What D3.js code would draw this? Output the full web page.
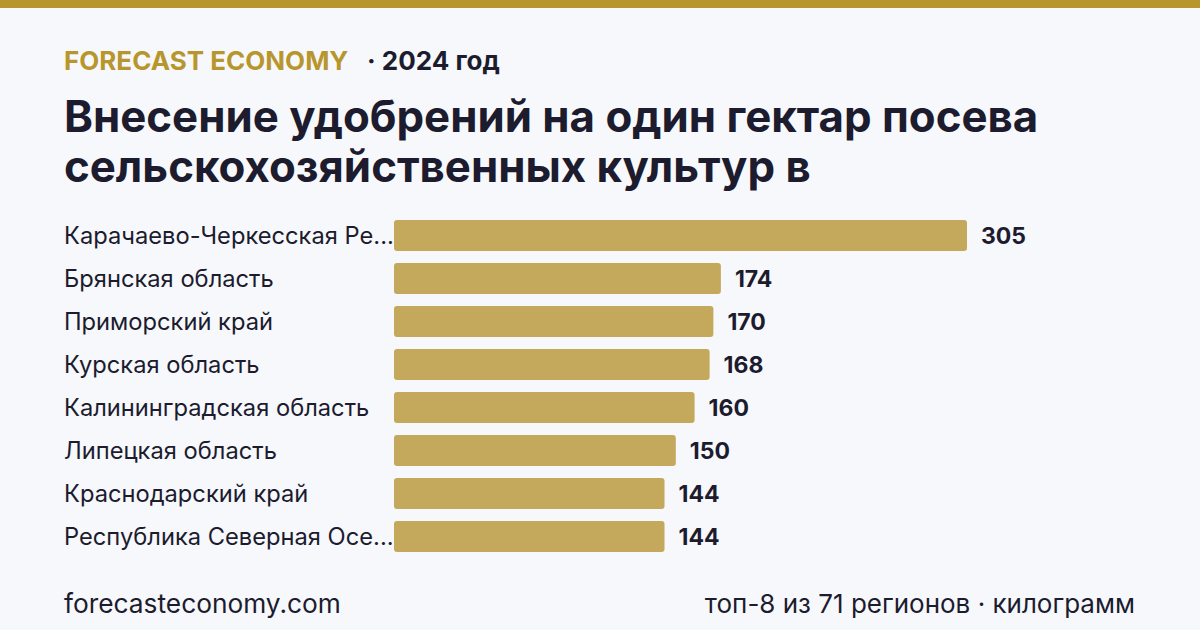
<!DOCTYPE html>
<html>
<head>
<meta charset="utf-8">
<script src="https://cdn.jsdelivr.net/npm/d3@7"></script>
<style>
  html, body { margin: 0; padding: 0; background: #f7f8fc; }
  svg { display: block; font-family: Inter, "Noto Sans", sans-serif; }
</style>
</head>
<body>
<div class="container"></div>
<script>
const w = 1200
const h = 630

const regions = [
  "Карачаево-Черкесская Ре...",
  "Брянская область",
  "Приморский край",
  "Курская область",
  "Калининградская область",
  "Липецкая область",
  "Краснодарский край",
  "Республика Северная Осе..."
]
const values = [305, 174, 170, 168, 160, 150, 144, 144]

const titleLines = [
  "Внесение удобрений на один гектар посева",
  "сельскохозяйственных культур в"
]

const gold = "#b8962e"
const barColor = "#c4a95c"
const ink = "#1c1c2e"

const svg = d3.select(".container")
              .append("svg")
              .attr("width", w)
              .attr("height", h)

svg.append("rect")
   .attr("width", w).attr("height", h)
   .attr("fill", "#f7f8fc")

svg.append("rect")
   .attr("width", w).attr("height", 8)
   .attr("fill", gold)

// header
svg.append("text")
   .attr("x", 64).attr("y", 70)
   .attr("font-size", 26).attr("font-weight", 700)
   .attr("fill", gold)
   .text("FORECAST ECONOMY")

svg.append("text")
   .attr("x", 367).attr("y", 70)
   .attr("font-size", 26).attr("font-weight", 700)
   .attr("fill", ink)
   .text("· 2024 год")

svg.selectAll(".title")
   .data(titleLines)
   .enter()
   .append("text")
     .attr("class", "title")
     .attr("x", 64)
     .attr("y", (d, i) => 132 + i * 50)
     .attr("font-size", 43.8).attr("font-weight", 700)
     .attr("fill", ink)
     .text(d => d)

const xScale = d3.scaleLinear()
                 .domain([0, 305])
                 .range([394, 967])

const yScale = d3.scaleBand()
                 .domain(regions)
                 .range([214, 558])
                 .paddingInner(0.28)
                 .paddingOuter(0.14)

const rows = svg.selectAll(".row")
   .data(regions.map((r, i) => ({ region: r, value: values[i] })))
   .enter()
   .append("g")
     .attr("class", "row")

rows.append("rect")
    .attr("x", xScale(0))
    .attr("y", d => yScale(d.region))
    .attr("width", d => xScale(d.value) - xScale(0))
    .attr("height", yScale.bandwidth())
    .attr("rx", 3)
    .attr("fill", barColor)

rows.append("text")
    .attr("x", 64)
    .attr("y", d => yScale(d.region) + yScale.bandwidth() / 2)
    .attr("dy", "0.35em")
    .attr("font-size", 23.7)
    .attr("fill", ink)
    .text(d => d.region)

rows.append("text")
    .attr("x", d => xScale(d.value) + 14)
    .attr("y", d => yScale(d.region) + yScale.bandwidth() / 2)
    .attr("dy", "0.35em")
    .attr("font-size", 23).attr("font-weight", 700)
    .attr("fill", ink)
    .text(d => d.value)

// footer
svg.append("text")
   .attr("x", 64).attr("y", 613)
   .attr("font-size", 26.3)
   .attr("fill", ink)
   .text("forecasteconomy.com")

svg.append("text")
   .attr("x", 1135).attr("y", 613)
   .attr("text-anchor", "end")
   .attr("font-size", 26)
   .attr("fill", ink)
   .text("топ-8 из 71 регионов · килограмм")
</script>
</body>
</html>
